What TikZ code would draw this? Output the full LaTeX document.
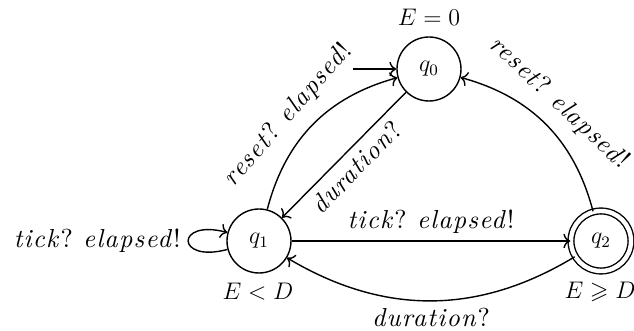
\documentclass[tikz,border=0pt]{standalone}
\usepackage{amssymb}
\usepackage{fontspec}
\newfontfamily\labfont{lmroman10-regular.otf}[ItalicFont=lmroman10-italic.otf, LetterSpace=5]
\usetikzlibrary{arrows.meta}
\newcommand\actlbl[2]{{\labfont\fontsize{13}{15}\selectfont\textit{#1}?\hspace{0.4em}\textit{#2}!}}
\newcommand\inlbl[1]{{\labfont\fontsize{13}{15}\selectfont\textit{#1}?}}
\begin{document}
\begin{tikzpicture}[x=0.5pt,y=-0.5pt, font=\fontsize{12}{14}\selectfont,
  stnode/.style={circle,draw,line width=0.7pt,minimum size=32pt,inner sep=0pt},
  accnode/.style={double,double distance=2.2pt,minimum size=30pt},
  arr/.style={->,line width=0.7pt,>={To[scale=1.1]}},
  lbl/.style={inner sep=3.5pt},
  arclbl/.style={inner sep=6pt}]
\useasboundingbox (0,0) rectangle (634,331);
\node[stnode] (q0) at (429,69) {$q_0$};
\node[stnode] (q1) at (259,241) {$q_1$};
\node[stnode,accnode] (q2) at (601,241) {$q_2$};
\node (e0) at (429,17) {$E=0$};
\node (e1) at (258,292) {$E<D$};
\node (e2) at (600,292) {$E\geqslant D$};
\coordinate (init) at (353,69);
\draw[arr] (init) -- (q0);
\draw[arr] (q1) to[bend left=30] node[arclbl,auto=left,sloped,pos=0.45] {\actlbl{reset}{elapsed}} (q0);
\draw[arr] (q0) -- node[lbl,auto=right,sloped] {\inlbl{duration}} (q1);
\draw[arr] (q2) to[bend right=30] node[arclbl,auto=left,sloped,pos=0.53] {\actlbl{reset}{elapsed}} (q0);
\draw[arr] (q1) -- node[lbl,auto] {\actlbl{tick}{elapsed}} (q2);
\draw[arr] (q2) to[bend left=31] node[lbl,auto] {\inlbl{duration}} (q1);
\draw[arr] (q1) to[out=195,in=165,distance=27pt] node[lbl,left] {\actlbl{tick}{elapsed}} (q1);
\end{tikzpicture}
\end{document}
